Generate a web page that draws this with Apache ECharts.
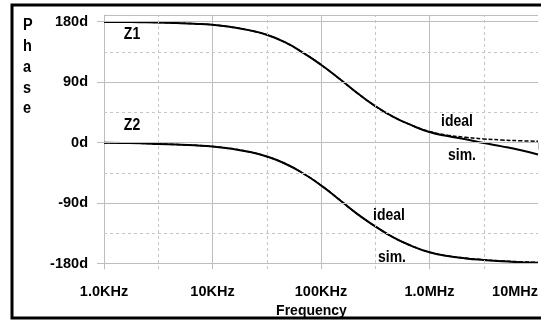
<!DOCTYPE html>
<html>
<head>
<meta charset="utf-8">
<script src="https://cdn.jsdelivr.net/npm/echarts@6/dist/echarts.min.js"></script>
<style>
  html, body { margin: 0; padding: 0; background: #fff; }
  #chart { width: 541px; height: 323px; }
</style>
</head>
<body>
<div id="chart"></div>
<script>
// Frequency sweep (Hz), six points per decade, and phase responses (degrees)
const freq    = [1000, 1468, 2154, 3162, 4642, 6813, 10000, 14678, 21544, 31623, 46416, 68129, 100000,
                 146780, 215440, 316230, 464160, 681290, 1000000, 1467800, 2154400, 3162300, 4641600, 6812900, 10000000];
const z1Ideal = [179.7, 179.5, 179.3, 178.9, 178.1, 177.0, 175.4, 172.2, 167.5, 160.5, 149.5, 134.0, 116.0,
                 95.5, 74.0, 54.5, 38.5, 26.0, 16.5, 11.2, 8.0, 5.6, 4.0, 2.9, 2.1];
const z1Sim   = [179.7, 179.5, 179.3, 178.9, 178.1, 177.0, 175.4, 172.2, 167.5, 160.5, 149.5, 134.0, 116.0,
                 95.5, 74.0, 54.5, 38.5, 26.0, 15.8, 9.8, 5.0, -0.5, -5.5, -11.0, -17.5];
const z2Ideal = [0.0, -0.4, -0.9, -1.8, -2.8, -4.0, -5.6, -8.8, -13.5, -20.5, -31.0, -45.5, -63.5,
                 -84.5, -106.0, -124.5, -141.0, -153.5, -163.0, -168.5, -171.8, -174.2, -176.0, -177.2, -178.2];
const z2Sim   = [0.0, -0.4, -0.9, -1.8, -2.8, -4.0, -5.6, -8.8, -13.5, -20.5, -31.0, -45.5, -63.5,
                 -84.5, -106.0, -124.5, -141.0, -153.5, -163.2, -168.8, -172.2, -174.6, -176.5, -177.8, -178.8];

// Axis ticks
const phaseTicks      = [-180, -90, 0, 90, 180];
const phaseMinorTicks = [-135, -45, 45, 135];
const freqTickLabels  = ['1.0KHz', '10KHz', '100KHz', '1.0MHz', '10MHz'];
const freqMinorTicks  = [3162.28, 31622.8, 316228, 3162278];

const FONT = "'Liberation Sans', Arial, Helvetica, sans-serif";
const GRID_SOLID = '#bdbdbd';
const GRID_DASH = '#c6c6c6';

const pairs = (ys) => freq.map((f, i) => [f, ys[i]]);

const chart = echarts.init(document.getElementById('chart'), null, { renderer: 'canvas' });

const gridLines = [
  ...phaseTicks.map(v => ({ yAxis: v, lineStyle: { color: GRID_SOLID, type: 'solid', width: 1 } })),
  { yAxis: 190, lineStyle: { color: GRID_SOLID, type: 'solid', width: 1 } },
  ...phaseMinorTicks.map(v => ({ yAxis: v, lineStyle: { color: GRID_DASH, type: [3, 3], width: 1 } })),
  ...freqMinorTicks.map(v => ({ xAxis: v, lineStyle: { color: GRID_DASH, type: [3, 3], width: 1 } }))
];

const textStyle = (size) => ({ font: `bold ${size}px ${FONT}`, fill: '#000' });

function label(text, x, y) {
  return {
    type: 'text', x, y, z: 10, scaleY: 1.12,
    style: Object.assign({ text, align: 'center', verticalAlign: 'middle', textAlign: 'center', textVerticalAlign: 'middle' }, textStyle(14))
  };
}

const curve = (name, data, z, dashed) => ({
  name, type: 'line', data: pairs(data), z,
  showSymbol: false, smooth: 0.5,
  lineStyle: dashed ? { color: '#000', width: 1.5, type: [4, 2] } : { color: '#000', width: 2 }
});

chart.setOption({
  animation: false,
  backgroundColor: '#fff',
  grid: { left: 104, right: 2, top: 15, bottom: 54, containLabel: false },
  xAxis: {
    type: 'log',
    logBase: 10,
    min: 1e3,
    max: 1e7,
    axisLine: { show: true, lineStyle: { color: GRID_SOLID, width: 1 } },
    axisTick: { show: true, length: 7, lineStyle: { color: GRID_SOLID } },
    minorTick: { show: false },
    splitLine: { show: true, showMinLine: true, showMaxLine: false, lineStyle: { color: GRID_SOLID, width: 1 } },
    axisLabel: {
      margin: 15,
      color: '#000',
      fontWeight: 'bold',
      fontSize: 14.5,
      fontFamily: FONT,
      alignMaxLabel: 'right',
      formatter: (v) => freqTickLabels[Math.round(Math.log10(v)) - 3] || ''
    },
    name: 'Frequency',
    nameLocation: 'middle',
    nameGap: 27,
    nameTextStyle: { color: '#000', fontWeight: 'bold', fontSize: 14, fontFamily: FONT, padding: [0, 19, 0, 0] }
  },
  yAxis: {
    type: 'value',
    min: -188,
    max: 190,
    axisLine: { show: true, lineStyle: { color: GRID_SOLID, width: 1 } },
    axisTick: { show: true, length: 7, customValues: phaseTicks, lineStyle: { color: GRID_SOLID } },
    splitLine: { show: false },
    axisLabel: {
      margin: 16,
      color: '#000',
      fontWeight: 'bold',
      fontSize: 14.5,
      fontFamily: FONT,
      customValues: phaseTicks,
      formatter: (v) => v + 'd'
    }
  },
  series: [
    {
      name: 'grid',
      type: 'line',
      data: [],
      z: 1,
      silent: true,
      markLine: { silent: true, symbol: 'none', label: { show: false }, animation: false, data: gridLines }
    },
    curve('Z1 sim.', z1Sim, 3, false),
    curve('Z1 ideal', z1Ideal, 4, true),
    curve('Z2 sim.', z2Sim, 3, false),
    curve('Z2 ideal', z2Ideal, 4, true)
  ],
  graphic: [
    {
      type: 'rect', z: 20, silent: true,
      shape: { x: 12, y: 5, width: 600, height: 313 },
      style: { fill: 'none', stroke: '#000', lineWidth: 3 }
    },
    {
      type: 'text', x: 23, y: 15, z: 10, scaleY: 1.1,
      style: Object.assign({ text: 'P\nh\na\ns\ne', lineHeight: 19, align: 'left', verticalAlign: 'top', textAlign: 'left', textVerticalAlign: 'top' }, textStyle(14.5))
    },
    label('Z1', 132, 35),
    label('Z2', 132, 126),
    label('ideal', 457, 122),
    label('sim.', 462, 156),
    label('ideal', 389, 216),
    label('sim.', 392, 258)
  ]
});
</script>
</body>
</html>
